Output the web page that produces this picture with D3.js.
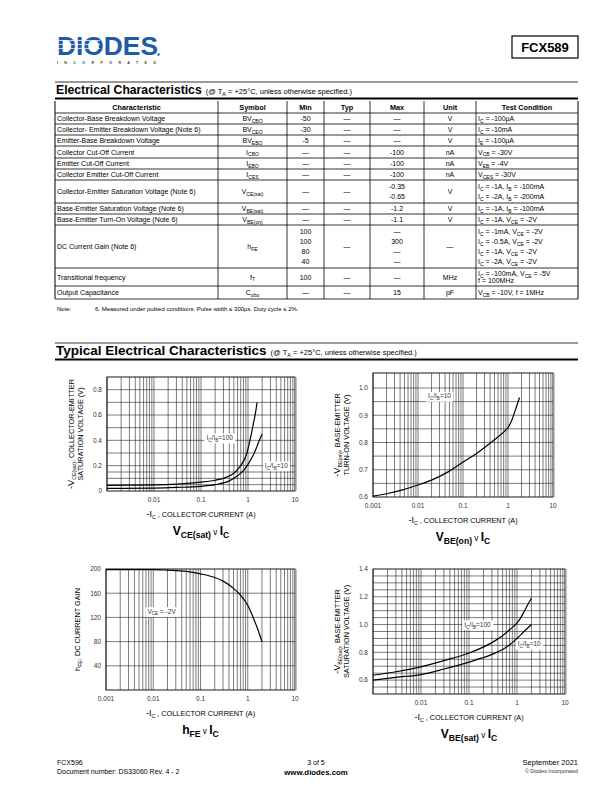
<!DOCTYPE html>
<html>
<head>
<meta charset="utf-8">
<script src="https://cdn.jsdelivr.net/npm/d3@7"></script>
<style>
body { margin: 0; background: #fff; }
svg { display: block; }
text { font-family: "Liberation Sans", Arial, sans-serif; }
</style>
</head>
<body>
<svg id="page" width="612" height="792"></svg>
<script>
// ---------- table data
var tableHead = ["Characteristic", "Symbol", "Min", "Typ", "Max", "Unit", "Test Condition"]
var characteristics = [
	"Collector-Base Breakdown Voltage",
	"Collector- Emitter Breakdown Voltage (Note 6)",
	"Emitter-Base Breakdown Voltage",
	"Collector Cut-Off Current",
	"Emitter Cut-Off Current",
	"Collector Emitter Cut-Off Current",
	"Collector-Emitter Saturation Voltage (Note 6)",
	"Base-Emitter Saturation Voltage (Note 6)",
	"Base-Emitter Turn-On Voltage (Note 6)",
	"DC Current Gain (Note 6)",
	"Transitional frequency",
	"Output Capacitance"
]
var symbols = ["BV_{CBO}", "BV_{CEO}", "BV_{EBO}", "I_{CBO}", "I_{EBO}", "I_{CES}",
	"V_{CE(sat)}", "V_{BE(sat)}", "V_{BE(on)}", "h_{FE}", "f_{T}", "C_{obo}"]
var minVals = [["-50"], ["-30"], ["-5"], ["—"], ["—"], ["—"], ["—"], ["—"], ["—"],
	["100", "100", "80", "40"], ["100"], ["—"]]
var typVals = [["—"], ["—"], ["—"], ["—"], ["—"], ["—"], ["—"], ["—"], ["—"], ["—"], ["—"], ["—"]]
var maxVals = [["—"], ["—"], ["—"], ["-100"], ["-100"], ["-100"], ["-0.35", "-0.65"], ["-1.2"], ["-1.1"],
	["—", "300", "—", "—"], ["—"], ["15"]]
var units = ["V", "V", "V", "nA", "nA", "nA", "V", "V", "V", "—", "MHz", "pF"]
var conditions = [
	["I_{C} = -100µA"],
	["I_{C} = -10mA"],
	["I_{E} = -100µA"],
	["V_{CB} = -30V"],
	["V_{EB} = -4V"],
	["V_{CES} = -30V"],
	["I_{C} = -1A, I_{B} = -100mA", "I_{C} = -2A, I_{B} = -200mA"],
	["I_{C} = -1A, I_{B} = -100mA"],
	["I_{C} = -1A, V_{CE} = -2V"],
	["I_{C} = -1mA, V_{CE} = -2V", "I_{C} = -0.5A, V_{CE} = -2V", "I_{C} = -1A, V_{CE} = -2V", "I_{C} = -2A, V_{CE} = -2V"],
	["I_{C} = -100mA, V_{CE} = -5V", "f = 100MHz"],
	["V_{CB} = -10V, f = 1MHz"]
]
var noteText = "6. Measured under pulsed conditions. Pulse width ≤ 300µs. Duty cycle ≤ 2%."

// ---------- chart data  [Ic (A), value]
var vceSat100 = [[0.001, 0.045], [0.003, 0.046], [0.01, 0.048], [0.03, 0.055], [0.1, 0.07], [0.2, 0.085],
	[0.3, 0.1], [0.5, 0.14], [0.7, 0.2], [0.95, 0.3], [1.1, 0.4], [1.3, 0.53], [1.45, 0.62], [1.56, 0.7]]
var vceSat10 = [[0.001, 0.02], [0.01, 0.023], [0.03, 0.028], [0.1, 0.037], [0.2, 0.05], [0.4, 0.08],
	[0.6, 0.12], [0.8, 0.16], [1.0, 0.21], [1.2, 0.26], [1.4, 0.31], [1.7, 0.39], [2.0, 0.45]]
var vbeOn = [[0.001, 0.603], [0.002, 0.612], [0.005, 0.628], [0.01, 0.644], [0.02, 0.662], [0.05, 0.695],
	[0.1, 0.728], [0.2, 0.76], [0.5, 0.81], [0.8, 0.838], [1.0, 0.855], [1.2, 0.88], [1.5, 0.925], [1.8, 0.965]]
var hfeGain = [[0.001, 199], [0.005, 199], [0.01, 199], [0.02, 198], [0.05, 196], [0.1, 192], [0.2, 186],
	[0.3, 180], [0.5, 168], [0.7, 157], [1.0, 140], [1.3, 120], [1.6, 102], [2.0, 80]]
var vbeSat100 = [[0.001, 0.635], [0.003, 0.66], [0.01, 0.695], [0.03, 0.74], [0.1, 0.795], [0.3, 0.87],
	[0.5, 0.92], [0.8, 0.98], [1.0, 1.01], [1.3, 1.07], [1.6, 1.13], [2.0, 1.19]]
var vbeSat10 = [[0.001, 0.6], [0.003, 0.62], [0.01, 0.64], [0.03, 0.68], [0.1, 0.73], [0.3, 0.785],
	[0.5, 0.82], [0.8, 0.87], [1.0, 0.9], [1.4, 0.95], [2.0, 1.0]]

var xTicksA = [0.01, 0.1, 1, 10]
var xTicksB = [0.001, 0.01, 0.1, 1, 10]
var vceTicks = [0, 0.2, 0.4, 0.6, 0.8]
var vbeOnTicks = [0.6, 0.7, 0.8, 0.9, 1.0]
var hfeTicks = [40, 80, 120, 160, 200]
var vbeSatTicks = [0.6, 0.8, 1.0, 1.2, 1.4]

var svg = d3.select("#page")

// mini markup: _{sub}  ~{small}  ^{big}
function rich(t, str, size) {
	var re = /([_~^])\{([^}]*)\}|([^_~^]+)/g, m, shift = 0
	while ((m = re.exec(str))) {
		var kind = m[1] || "", txt = m[1] ? m[2] : m[3]
		var ts = t.append("tspan"), s = size, dy = 0
		if (kind == "_") {
			s = size * 0.72; dy = size * 0.28 - shift; shift = size * 0.28
		} else {
			dy = -shift; shift = 0
			if (kind == "~") { s = size * 0.68; ts.attr("font-weight", "normal") }
			if (kind == "^") { s = size * 1.25 }
		}
		ts.attr("font-size", s).text(txt)
		if (dy) { ts.attr("dy", dy) }
	}
	return t
}

function hline(x1, x2, y, w) {
	svg.append("line").attr("x1", x1).attr("x2", x2).attr("y1", y).attr("y2", y)
		.attr("stroke", "#000").attr("stroke-width", w)
}

// ---------- page header
svg.append("text").attr("x", 57).attr("y", 55).attr("font-size", 26).attr("font-weight", "bold")
	.attr("fill", "#1d5ba6").attr("textLength", 101).attr("lengthAdjust", "spacingAndGlyphs").text("DIODES")
;[40.5, 44.5, 48.5].forEach(function(yy) {
	svg.append("line").attr("x1", 57).attr("x2", 100).attr("y1", yy).attr("y2", yy)
		.attr("stroke", "#fff").attr("stroke-width", 0.7)
})
svg.append("circle").attr("cx", 158.5).attr("cy", 54.5).attr("r", 1.2).attr("fill", "#1d5ba6")
svg.append("text").attr("x", 57).attr("y", 63.5).attr("font-size", 3.6).attr("font-weight", "bold")
	.attr("fill", "#444").attr("textLength", 99).attr("lengthAdjust", "spacing").text("INCORPORATED")

svg.append("rect").attr("x", 512).attr("y", 36).attr("width", 66).attr("height", 22)
	.attr("fill", "none").attr("stroke", "#000").attr("stroke-width", 1.2)
svg.append("text").attr("x", 545).attr("y", 52).attr("text-anchor", "middle").attr("font-size", 13)
	.attr("font-weight", "bold").text("FCX589")

function sectionTitle(y, title, size) {
	hline(55, 578, y - 12, 0.8)
	var t = svg.append("text").attr("x", 56).attr("y", y)
	t.append("tspan").attr("font-size", size).attr("font-weight", "bold").text(title)
	rich(t.append("tspan").attr("dx", 4), "(@ T_{A} = +25°C, unless otherwise specified.)", 7.5)
	hline(55, 578, y + 4.5, 2)
}
sectionTitle(94, "Electrical Characteristics", 12.2)

// ---------- table
var cols = [55, 218, 287, 324, 370, 424, 476, 578]
var rowH = [12, 11, 11, 11, 12, 11, 11, 23, 11, 11, 43, 18, 13]
var tableTop = 101
var rowY = [tableTop]
rowH.forEach(function(h, i) { rowY.push(rowY[i] + h) })

var tbl = svg.append("g")
tbl.selectAll("line.row").data(rowY.slice(1)).join("line")
	.attr("x1", cols[0]).attr("x2", cols[7]).attr("y1", function(d) { return d }).attr("y2", function(d) { return d })
	.attr("stroke", "#000").attr("stroke-width", 0.8)
tbl.selectAll("line.col").data(cols).join("line")
	.attr("x1", function(d) { return d }).attr("x2", function(d) { return d })
	.attr("y1", tableTop).attr("y2", rowY[rowY.length - 1])
	.attr("stroke", "#000").attr("stroke-width", function(d, i) { return i == 0 || i == 7 ? 1 : 0.8 })

tableHead.forEach(function(h, i) {
	tbl.append("text").attr("x", (cols[i] + cols[i + 1]) / 2).attr("y", tableTop + 8.6)
		.attr("text-anchor", "middle").attr("font-size", 7.3).attr("font-weight", "bold").text(h)
})

function cellLines(lines, ci, ri, anchor) {
	var top = rowY[ri + 1], h = rowH[ri + 1], n = lines.length
	var step = n == 1 ? 0 : Math.min(10.5, (h - 3) / n)
	lines.forEach(function(s, k) {
		var cy = top + h / 2 + (k - (n - 1) / 2) * step
		var t = tbl.append("text").attr("y", cy + 2.5).attr("font-size", 7)
		if (anchor == "start") { t.attr("x", cols[ci] + 2) }
		else { t.attr("x", (cols[ci] + cols[ci + 1]) / 2).attr("text-anchor", "middle") }
		rich(t, s, 7)
	})
}
characteristics.forEach(function(c, r) {
	cellLines([c], 0, r, "start")
	cellLines([symbols[r]], 1, r, "middle")
	cellLines(minVals[r], 2, r, "middle")
	cellLines(typVals[r], 3, r, "middle")
	cellLines(maxVals[r], 4, r, "middle")
	cellLines([units[r]], 5, r, "middle")
	cellLines(conditions[r], 6, r, "start")
})

svg.append("text").attr("x", 57).attr("y", 311).attr("font-size", 6).text("Note:")
svg.append("text").attr("x", 95).attr("y", 311).attr("font-size", 6).text(noteText)

sectionTitle(355, "Typical Electrical Characteristics", 13.5)

// ---------- charts
var decadeLines = []
;[0.001, 0.01, 0.1, 1].forEach(function(d) {
	d3.range(1, 10).forEach(function(k) { decadeLines.push(d * k) })
})

function drawChart(c) {
	var g = svg.append("g")
	var x = d3.scaleLog().domain([0.001, 10]).range([c.left, c.right])
	var y = d3.scaleLinear().domain(c.yDomain).range([c.bottom, c.top])

	g.selectAll("line.vg").data(decadeLines).join("line")
		.attr("x1", function(d) { return x(d) }).attr("x2", function(d) { return x(d) })
		.attr("y1", c.top).attr("y2", c.bottom).attr("stroke", "#111").attr("stroke-width", 0.55)
	g.selectAll("line.hg").data(c.yGrid).join("line")
		.attr("x1", c.left).attr("x2", c.right)
		.attr("y1", function(d) { return y(d) }).attr("y2", function(d) { return y(d) })
		.attr("stroke", "#111").attr("stroke-width", 0.55)
	g.append("rect").attr("x", c.left).attr("y", c.top).attr("width", c.right - c.left)
		.attr("height", c.bottom - c.top).attr("fill", "none").attr("stroke", "#000").attr("stroke-width", 0.9)
	g.append("line").attr("x1", c.right + 0.8).attr("x2", c.right + 0.8).attr("y1", c.top).attr("y2", c.bottom)
		.attr("stroke", "#999").attr("stroke-width", 1.6)

	g.selectAll("text.xt").data(c.xTicks).join("text")
		.attr("x", function(d) { return x(d) }).attr("y", c.bottom + 11)
		.attr("text-anchor", "middle").attr("font-size", 6.5).attr("fill", "#333")
		.text(function(d) { return String(d) })
	g.selectAll("text.yt").data(c.yTicks).join("text")
		.attr("x", c.left - 5).attr("y", function(d) { return y(d) + 2.3 })
		.attr("text-anchor", "end").attr("font-size", 6.5).attr("fill", "#333")
		.text(c.yFmt)

	var line = d3.line().x(function(d) { return x(d[0]) }).y(function(d) { return y(d[1]) })
		.curve(d3.curveMonotoneX)
	c.series.forEach(function(s) {
		g.append("path").attr("d", line(s.data)).attr("fill", "none")
			.attr("stroke", "#000").attr("stroke-width", 1.2)
	})
	c.labels.forEach(function(l) {
		var t = rich(g.append("text").attr("x", x(l.at[0])).attr("y", y(l.at[1]) + 2.3)
			.attr("text-anchor", "middle").attr("fill", "#333"), l.text, 6.5)
		var b = t.node().getBBox()
		g.insert("rect", function() { return t.node() }).attr("x", b.x - 2).attr("y", b.y - 0.5)
			.attr("width", b.width + 4).attr("height", b.height + 1).attr("fill", "#fff")
	})

	var mid = (c.left + c.right) / 2
	rich(g.append("text").attr("x", mid).attr("y", c.bottom + 26).attr("text-anchor", "middle"),
		"^{-I}_{C} , COLLECTOR CURRENT (A)", 7.3)
	rich(g.append("text").attr("x", mid).attr("y", c.bottom + 44).attr("text-anchor", "middle")
		.attr("font-weight", "bold"), c.title, 12)
	var ym = (c.top + c.bottom) / 2
	c.yTitle.forEach(function(s, i) {
		var xx = c.yTitleX + i * 9
		rich(g.append("text").attr("transform", "translate(" + xx + "," + ym + ") rotate(-90)")
			.attr("text-anchor", "middle"), s, 7.3)
	})
}

var f1 = function(d) { return d == 0 ? "0" : d3.format(".1f")(d) }

drawChart({
	left: 107, right: 295, top: 377, bottom: 491, yDomain: [0, 0.9],
	yGrid: [0.05, 0.1, 0.15, 0.2, 0.3, 0.4, 0.5, 0.6, 0.7, 0.8],
	xTicks: xTicksA, yTicks: vceTicks, yFmt: f1,
	series: [{ data: vceSat100 }, { data: vceSat10 }],
	labels: [{ text: "I_{C}/I_{B}=100", at: [0.25, 0.42] }, { text: "I_{C}/I_{B}=10", at: [4, 0.2] }],
	yTitle: ["^{-V}_{CE(sat)}, COLLECTOR-EMITTER", "SATURATION VOLTAGE (V)"], yTitleX: 74,
	title: "V_{CE(sat)}~{ v }I_{C}"
})
drawChart({
	left: 373, right: 553, top: 373, bottom: 497, yDomain: [0.6, 1.055],
	yGrid: d3.range(0.65, 1.04, 0.05),
	xTicks: xTicksB, yTicks: vbeOnTicks, yFmt: d3.format(".1f"),
	series: [{ data: vbeOn }],
	labels: [{ text: "I_{C}/I_{B}=10", at: [0.03, 0.97] }],
	yTitle: ["^{-V}_{BE(on)}, BASE-EMITTER", "TURN-ON VOLTAGE (V)"], yTitleX: 340,
	title: "V_{BE(on)}~{ v }I_{C}"
})
drawChart({
	left: 106, right: 295, top: 569, bottom: 690, yDomain: [0, 200],
	yGrid: [40, 80, 120, 160],
	xTicks: xTicksB, yTicks: hfeTicks, yFmt: d3.format("d"),
	series: [{ data: hfeGain }],
	labels: [{ text: "V_{CE} = -2V", at: [0.015, 130] }],
	yTitle: ["h_{FE}, DC CURRENT GAIN"], yTitleX: 80,
	title: "h_{FE}~{ v }I_{C}"
})
drawChart({
	left: 373, right: 565, top: 569, bottom: 694, yDomain: [0.5, 1.4],
	yGrid: d3.range(0.55, 1.39, 0.05),
	xTicks: xTicksA, yTicks: vbeSatTicks, yFmt: d3.format(".1f"),
	series: [{ data: vbeSat100 }, { data: vbeSat10 }],
	labels: [{ text: "I_{C}/I_{B}=100", at: [0.15, 1.0] }, { text: "I_{C}/I_{B}=10", at: [1.8, 0.86] }],
	yTitle: ["^{-V}_{BE(sat)}, BASE-EMITTER", "SATURATION VOLTAGE (V)"], yTitleX: 340,
	title: "V_{BE(sat)}~{ v }I_{C}"
})

// ---------- footer
svg.append("text").attr("x", 57).attr("y", 765).attr("font-size", 7).text("FCX596")
svg.append("text").attr("x", 57).attr("y", 774).attr("font-size", 7).text("Document number: DS33060 Rev. 4 - 2")
svg.append("text").attr("x", 316).attr("y", 765).attr("font-size", 7).attr("text-anchor", "middle").text("3 of 5")
svg.append("text").attr("x", 316).attr("y", 774.5).attr("font-size", 7.8).attr("font-weight", "bold")
	.attr("text-anchor", "middle").text("www.diodes.com")
svg.append("text").attr("x", 578).attr("y", 765).attr("font-size", 7.5).attr("text-anchor", "end").text("September 2021")
svg.append("text").attr("x", 578).attr("y", 773).attr("font-size", 5.3).attr("text-anchor", "end")
	.attr("fill", "#333").text("© Diodes Incorporated")
</script>
</body>
</html>
